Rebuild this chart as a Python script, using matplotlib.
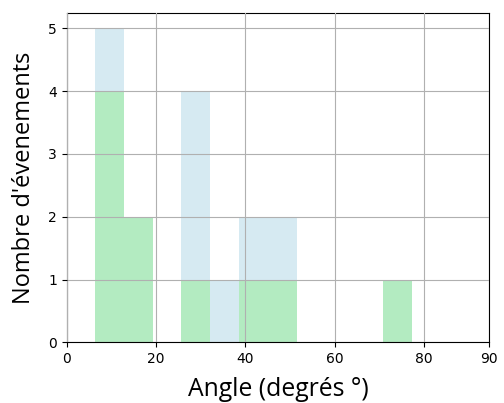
import numpy as np
import matplotlib
matplotlib.use("Agg")
import matplotlib.pyplot as plt

# shared bin edges (degrees) and counts per bin
bin_edges = np.linspace(6.34, 77.3, 12)
counts_blue = [5, 0, 0, 4, 1, 2, 2, 0, 0, 0, 0]
counts_green = [4, 2, 0, 1, 0, 1, 1, 0, 0, 0, 1]

xtick_pos = [0, 20, 40, 60, 80, 94.6]
xtick_labels = ['0', '20', '40', '60', '80', '90']

fig = plt.figure(figsize=(5.04, 4.03), dpi=100)
ax = fig.add_axes([0.1323, 0.1506, 0.8385, 0.8179])

widths = np.diff(bin_edges)
ax.bar(bin_edges[:-1], counts_blue, width=widths, align='edge', color='#d6eaf2', linewidth=0)
ax.bar(bin_edges[:-1], counts_green, width=widths, align='edge', color='#b3ebc1', linewidth=0)

ax.set_xlim(0, 94.6)
ax.set_ylim(0, 5.25)
ax.set_xticks(xtick_pos)
ax.set_xticklabels(xtick_labels)
ax.set_yticks(range(6))
ax.set_axisbelow(False)
ax.grid(True, color='#b0b0b0', linewidth=0.8)

ax.set_xlabel('Angle (degrés °)', fontsize=17.8, family='Open Sans', labelpad=8)
ax.set_ylabel("Nombre d'évenements", fontsize=17, family='Open Sans', labelpad=9)

fig.savefig('out.png', dpi=100)
